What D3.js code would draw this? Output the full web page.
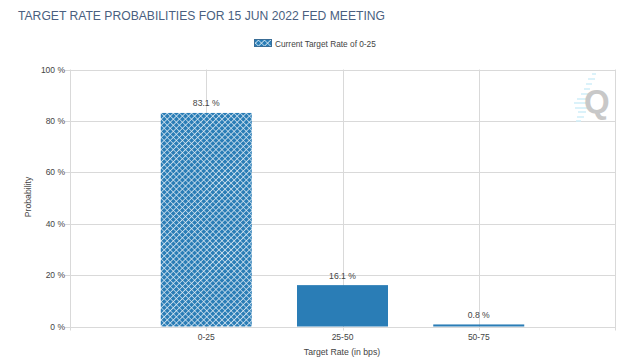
<!DOCTYPE html>
<html>
<head>
<meta charset="utf-8">
<script src="https://cdn.jsdelivr.net/npm/d3@7"></script>
<style>
html, body { margin: 0; padding: 0; background: #fff; }
text { font-family: "Liberation Sans", Arial, sans-serif; }
</style>
</head>
<body>
<script>
var categories = ["0-25", "25-50", "50-75"];
var probabilities = [83.1, 16.1, 0.8];
var currentIndex = 0;
var yTicks = [0, 20, 40, 60, 80, 100];
var titleText = "TARGET RATE PROBABILITIES FOR 15 JUN 2022 FED MEETING";
var legendText = "Current Target Rate of 0-25";
var xTitle = "Target Rate (in bps)";
var yTitle = "Probability";

var width = 623, height = 362;
var left = 70, right = 615, top_ = 69.5, bottom = 326.5;
var barColor = "#2a7db6", gridColor = "#d9d9d9", textColor = "#444";

var svg = d3.select("body").append("svg")
	.attr("width", width)
	.attr("height", height)
	.style("display", "block");

// hachure de la barre courante
var pat = svg.append("defs").append("pattern")
	.attr("id", "hatch")
	.attr("width", 4.3)
	.attr("height", 4.3)
	.attr("patternUnits", "userSpaceOnUse")
	.attr("patternTransform", "rotate(45)");
pat.append("rect").attr("width", 4.3).attr("height", 4.3).attr("fill", barColor);
pat.append("path").attr("d", "M0 0H4.3M0 0V4.3").attr("stroke", "#dfecf5").attr("stroke-width", 1.5);

// une place vide de chaque cote des categories
var x = d3.scalePoint().domain(["_a"].concat(categories, ["_b"])).range([left, right]);
var y = d3.scaleLinear().domain([0, 100]).range([bottom, top_]);

svg.append("text")
	.attr("x", 18).attr("y", 20)
	.attr("font-size", 12.15)
	.attr("fill", "#4a5f80")
	.text(titleText);

// legende
svg.append("rect")
	.attr("x", 254.5).attr("y", 39.5).attr("width", 17).attr("height", 7)
	.attr("fill", "url(#hatch)").attr("stroke", "#3a6d96");
svg.append("text")
	.attr("x", 275).attr("y", 46.5)
	.attr("font-size", 8.3)
	.attr("fill", textColor)
	.text(legendText);

// grille
svg.append("g").selectAll("line").data(yTicks).enter().append("line")
	.attr("x1", left - 5).attr("x2", right)
	.attr("y1", function (d) { return Math.round(y(d)) + 0.5; })
	.attr("y2", function (d) { return Math.round(y(d)) + 0.5; })
	.attr("stroke", gridColor);
svg.append("g").selectAll("line").data(x.domain()).enter().append("line")
	.attr("x1", function (d) { return Math.round(x(d)) + 0.5; })
	.attr("x2", function (d) { return Math.round(x(d)) + 0.5; })
	.attr("y1", top_).attr("y2", bottom + 4)
	.attr("stroke", gridColor);

// logo
var streaks = [[592, 74, 596], [588, 79, 595], [586, 84, 592], [584, 89, 590], [581, 94, 590], [577, 99, 588], [574, 103, 588], [575, 108, 588], [578, 112, 586], [577, 117, 584], [576, 121, 581]];
svg.append("g").selectAll("line").data(streaks).enter().append("line")
	.attr("x1", function (d) { return d[0]; })
	.attr("x2", function (d) { return d[2]; })
	.attr("y1", function (d) { return d[1]; })
	.attr("y2", function (d) { return d[1]; })
	.attr("stroke", "#cfeef8").attr("stroke-width", 1.5);
svg.append("text")
	.attr("x", 584).attr("y", 113)
	.attr("font-size", 33).attr("font-weight", "bold")
	.attr("fill", "#c8c8c8")
	.text("Q");

// barres
var barW = 91;
svg.append("g").selectAll("rect").data(categories).enter().append("rect")
	.attr("x", function (d) { return x(d) - barW / 2; })
	.attr("width", barW)
	.attr("y", function (d, i) { return y(probabilities[i]); })
	.attr("height", function (d, i) { return bottom - y(probabilities[i]); })
	.attr("fill", function (d, i) { return i == currentIndex ? "url(#hatch)" : barColor; });

svg.append("g").selectAll("text").data(categories).enter().append("text")
	.attr("x", function (d) { return x(d); })
	.attr("y", function (d, i) { return y(probabilities[i]) - 6.5; })
	.attr("text-anchor", "middle")
	.attr("font-size", 8.6)
	.attr("fill", textColor)
	.text(function (d, i) { return probabilities[i] + " %"; });

// axes
svg.append("g").selectAll("text").data(yTicks).enter().append("text")
	.attr("x", 65).attr("y", function (d) { return y(d) + 3; })
	.attr("text-anchor", "end")
	.attr("font-size", 8.5)
	.attr("fill", textColor)
	.text(function (d) { return d + " %"; });
svg.append("g").selectAll("text").data(categories).enter().append("text")
	.attr("x", function (d) { return x(d); })
	.attr("y", 339.5)
	.attr("text-anchor", "middle")
	.attr("font-size", 8.5)
	.attr("fill", textColor)
	.text(function (d) { return d; });
svg.append("text")
	.attr("x", 342).attr("y", 354.5)
	.attr("text-anchor", "middle")
	.attr("font-size", 8.7)
	.attr("fill", textColor)
	.text(xTitle);
svg.append("text")
	.attr("transform", "translate(31," + ((top_ + bottom) / 2 - 1) + ") rotate(-90)")
	.attr("text-anchor", "middle")
	.attr("font-size", 8.7)
	.attr("fill", textColor)
	.text(yTitle);
</script>
</body>
</html>
